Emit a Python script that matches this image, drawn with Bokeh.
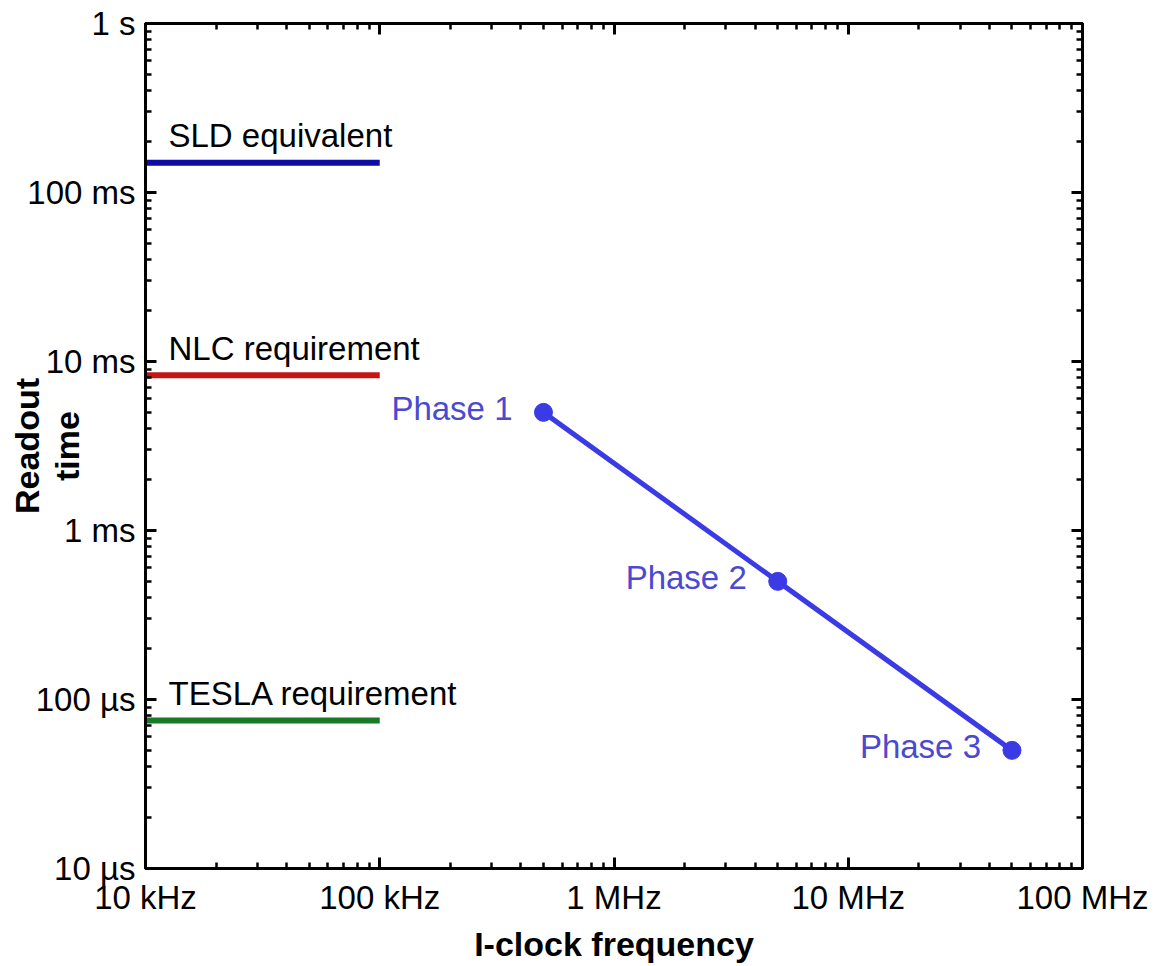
from bokeh.plotting import figure
from bokeh.models import ColumnDataSource, LogAxis, FixedTicker
from bokeh.core.properties import value
from bokeh.embed import file_html
from bokeh.resources import INLINE

# ---- data ----
freq_ticks = [1e4, 1e5, 1e6, 1e7, 1e8]
freq_labels = ["10 kHz", "100 kHz", "1 MHz", "10 MHz", "100 MHz"]
time_ticks = [1e-5, 1e-4, 1e-3, 1e-2, 1e-1, 1.0]
time_labels = ["10 µs", "100 µs", "1 ms", "10 ms", "100 ms", "1 s"]

req_names = ["SLD equivalent", "NLC requirement", "TESLA requirement"]
req_times = [0.15, 8.3e-3, 7.5e-5]
req_fmin = [1e4, 1e4, 1e4]
req_fmax = [1e5, 1e5, 1e5]
req_colors = ["#0d0da6", "#c51616", "#177a27"]

phase_names = ["Phase 1", "Phase 2", "Phase 3"]
phase_freq = [5e5, 5e6, 5e7]
phase_time = [5e-3, 5e-4, 5e-5]

FONT = "Liberation Sans"


def minor(ticks):
    out = []
    for t in ticks[:-1]:
        for m in range(2, 10):
            out.append(t * m)
    return out


p = figure(x_axis_type="log", y_axis_type="log",
           x_range=(freq_ticks[0], freq_ticks[-1]),
           y_range=(time_ticks[0], time_ticks[-1]),
           frame_width=937, frame_height=845,
           min_border_left=145, min_border_right=75,
           min_border_top=23, min_border_bottom=98,
           output_backend="svg", toolbar_location=None,
           background_fill_color="white", border_fill_color="white")
p.xgrid.visible = False
p.ygrid.visible = False
p.outline_line_color = "black"
p.outline_line_width = 3

bottom = p.below[0]
left = p.left[0]

xt = FixedTicker(ticks=freq_ticks, minor_ticks=minor(freq_ticks))
yt = FixedTicker(ticks=time_ticks, minor_ticks=minor(time_ticks))

top = LogAxis()
right = LogAxis()
p.add_layout(top, "above")
p.add_layout(right, "right")

for ax in [bottom, top]:
    ax.ticker = xt
for ax in [left, right]:
    ax.ticker = yt

bottom.major_label_overrides = {t: l for t, l in zip(freq_ticks, freq_labels)}
left.major_label_overrides = {t: l for t, l in zip(time_ticks, time_labels)}

for ax in [bottom, left, top, right]:
    ax.axis_line_color = "black"
    ax.axis_line_width = 3
    ax.major_tick_in = 11
    ax.major_tick_out = 0
    ax.minor_tick_in = 6
    ax.minor_tick_out = 0
    ax.major_tick_line_width = 3
    ax.minor_tick_line_width = 2.5
    ax.major_tick_line_color = "black"
    ax.minor_tick_line_color = "black"
    ax.major_label_text_font = FONT
    ax.major_label_text_font_size = "33px"
    ax.major_label_text_color = "black"
    ax.major_label_standoff = 10

for ax in [top, right]:
    ax.major_label_text_font_size = "1px"
    ax.major_label_text_color = None
    ax.major_label_standoff = 0

for ax in [bottom, left]:
    ax.axis_label_text_font = FONT
    ax.axis_label_text_font_size = "34px"
    ax.axis_label_text_font_style = "bold"
    ax.axis_label_text_color = "black"

bottom.axis_label = "I-clock frequency"
bottom.axis_label_standoff = 6

left.axis_label = "Readout\ntime"
left.axis_label_text_line_height = 1.05
left.axis_label_standoff = -62

# requirement lines
req_src = ColumnDataSource(dict(x0=req_fmin, x1=req_fmax, y=req_times,
                                name=req_names, color=req_colors))
p.segment(x0="x0", y0="y", x1="x1", y1="y", color="color",
          line_width=6, source=req_src)
p.text(x="x0", y="y", text="name", source=req_src, x_offset=23, y_offset=-27,
       text_font=value(FONT), text_font_size="33px", text_color="black",
       text_align="left", text_baseline="middle")

# phases
ph_src = ColumnDataSource(dict(x=phase_freq, y=phase_time, name=phase_names))
p.line(x="x", y="y", source=ph_src, line_color="#3b3be6", line_width=5)
p.scatter(x="x", y="y", source=ph_src, size=18, fill_color="#3b3be6",
          line_color="#3b3be6")
p.text(x="x", y="y", text="name", source=ph_src, x_offset=-31, y_offset=-4,
       text_font=value(FONT), text_font_size="33px", text_color="#4a4ad0",
       text_align="right", text_baseline="middle")

open("out.html", "w").write(file_html(p, INLINE))
